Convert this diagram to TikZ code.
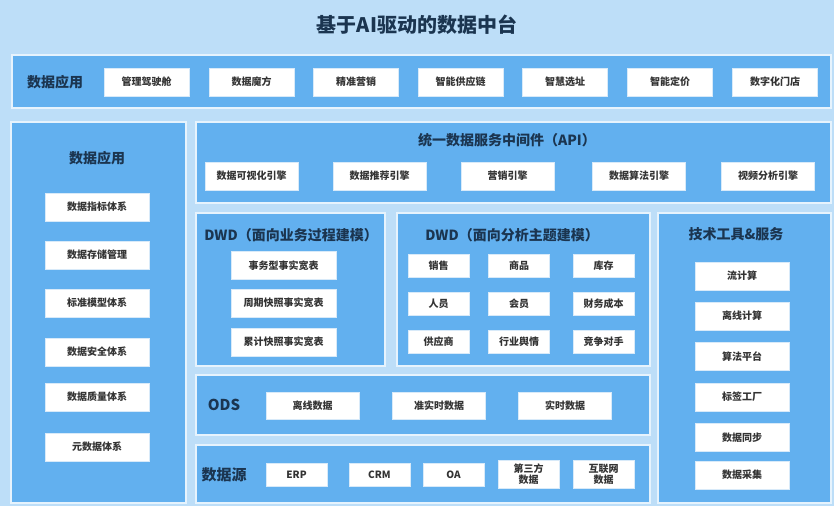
\documentclass[tikz,border=0pt]{standalone}
\usepackage{fontspec}
\setmainfont{Noto Sans CJK SC}
\definecolor{bgc}{HTML}{BDDEF8}
\definecolor{panelc}{HTML}{62B0EF}
\definecolor{edgec}{HTML}{E6F3FD}
\definecolor{headc}{HTML}{1B3550}
\definecolor{boxtc}{HTML}{333333}
\definecolor{boxec}{HTML}{D8EAF9}
\tikzset{
  panel/.style={fill=panelc, draw=edgec, line width=1.5pt, inner sep=0pt, outer sep=0pt},
  wbox/.style={fill=white, draw=boxec, line width=0.6pt, inner sep=0pt, outer sep=0pt,
    text=boxtc, font=\bfseries\fontsize{10}{12}\selectfont, align=center},
  head/.style={text=headc, font=\bfseries\fontsize{14}{16}\selectfont, inner sep=0pt},
  maintitle/.style={text=headc, font=\bfseries\fontsize{20}{24}\selectfont, inner sep=0pt}
}
\begin{document}
\begin{tikzpicture}[x=1pt,y=-1pt]
\fill[bgc] (0,0) rectangle (834,506);
\useasboundingbox (0,0) rectangle (834,506);

\node[maintitle] (title) at (417,25) {基于AI驱动的数据中台};

% top application panel
\node[panel, minimum width=819pt, minimum height=53pt] (top) at (421.5,81.5) {};
\node[head] (toph) at (55,82) {数据应用};
\foreach \t/\x [count=\i] in {管理驾驶舱/146.5, 数据魔方/251.5, 精准营销/356, 智能供应链/460.5, 智慧选址/565, 智能定价/670, 数字化门店/775}
  \node[wbox, minimum width=85pt, minimum height=28pt] (app\i) at (\x,82) {\t};

% left panel
\node[panel, minimum width=175pt, minimum height=381pt] (left) at (98.5,312.5) {};
\node[head] (lefth) at (97,158) {数据应用};
\foreach \t/\y [count=\i] in {数据指标体系/207, 数据存储管理/255, 标准模型体系/303, 数据安全体系/352, 数据质量体系/397, 元数据体系/447}
  \node[wbox, minimum width=104pt, minimum height=28pt] (lb\i) at (97,\y) {\t};

% API panel
\node[panel, minimum width=635pt, minimum height=81pt] (api) at (513.5,162.5) {};
\node[head] (apih) at (507,140) {统一数据服务中间件（API）};
\foreach \t/\x [count=\i] in {数据可视化引擎/251.5, 数据推荐引擎/379.5, 营销引擎/507.5, 数据算法引擎/639, 视频分析引擎/768}
  \node[wbox, minimum width=93pt, minimum height=28pt] (eng\i) at (\x,176) {\t};

% DWD business process
\node[panel, minimum width=189pt, minimum height=153pt] (dwda) at (290.5,289.5) {};
\node[head] (dwdah) at (291,235) {DWD（面向业务过程建模）};
\foreach \t/\y [count=\i] in {事务型事实宽表/265.5, 周期快照事实宽表/303, 累计快照事实宽表/342}
  \node[wbox, minimum width=105pt, minimum height=28pt] (da\i) at (283.5,\y) {\t};

% DWD analysis subject
\node[panel, minimum width=253pt, minimum height=153pt] (dwdb) at (523.5,289.5) {};
\node[head] (dwdbh) at (512,235) {DWD（面向分析主题建模）};
\foreach \t/\x/\y [count=\i] in {销售/438.5/265.5, 商品/519/265.5, 库存/603.5/265.5,
   人员/438.5/303.5, 会员/519/303.5, 财务成本/603.5/303.5,
   供应商/438.5/342, 行业舆情/519/342, 竞争对手/603.5/342}
  \node[wbox, minimum width=61pt, minimum height=23pt] (db\i) at (\x,\y) {\t};

% tools panel
\node[panel, minimum width=173pt, minimum height=290pt] (tool) at (744.5,358) {};
\node[head] (toolh) at (736,234) {技术工具\&服务};
\foreach \t/\y [count=\i] in {流计算/276, 离线计算/316, 算法平台/356.5, 标签工厂/397, 数据同步/437.5, 数据采集/475}
  \node[wbox, minimum width=94pt, minimum height=28pt] (tb\i) at (742,\y) {\t};

% ODS
\node[panel, minimum width=454pt, minimum height=60pt] (ods) at (423,405) {};
\node[head, font=\bfseries\fontsize{15}{17}\selectfont] (odsh) at (224,405) {ODS};
\foreach \t/\x [count=\i] in {离线数据/312.5, 准实时数据/439, 实时数据/565}
  \node[wbox, minimum width=93pt, minimum height=27pt] (ob\i) at (\x,405.5) {\t};

% data source
\node[panel, minimum width=454pt, minimum height=58pt] (src) at (423,474) {};
\node[head, font=\bfseries\fontsize{15}{17}\selectfont] (srch) at (224,475) {数据源};
\node[wbox, minimum width=61pt, minimum height=23pt] (s1) at (296.5,474.5) {ERP};
\node[wbox, minimum width=61pt, minimum height=23pt] (s2) at (379.5,474.5) {CRM};
\node[wbox, minimum width=61pt, minimum height=23pt] (s3) at (453.5,474.5) {OA};
\node[wbox, minimum width=61pt, minimum height=28pt, font=\bfseries\fontsize{10}{11}\selectfont] (s4) at (528.5,474) {第三方\\数据};
\node[wbox, minimum width=61pt, minimum height=28pt, font=\bfseries\fontsize{10}{11}\selectfont] (s5) at (603.5,474) {互联网\\数据};
\end{tikzpicture}
\end{document}
